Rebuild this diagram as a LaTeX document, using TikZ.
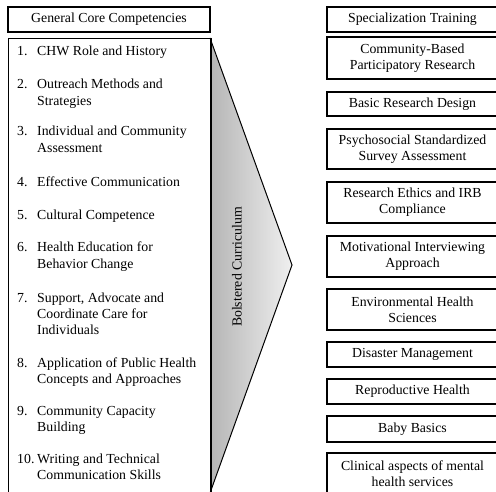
\documentclass[tikz,border=0pt]{standalone}
\usepackage{fontspec}
\setmainfont{Liberation Serif}
\begin{document}
\begin{tikzpicture}[x=1pt,y=-1pt,
  txt/.style={font=\fontsize{13.8}{16.3}\selectfont},
  headbox/.style={txt,draw=black,line width=1.8pt,minimum height=25pt,inner sep=0pt},
  rbox/.style={txt,draw=black,line width=1.2pt,minimum width=171pt,inner sep=0pt,align=center},
  item/.style={txt,anchor=base west,inner sep=0pt}]
\useasboundingbox (0,0) rectangle (496,492);
\clip (0,0) rectangle (496,492);

% shaded arrow behind the competency list
\shade[left color=gray!58,right color=gray!12]
  (210,38) -- (292,265) -- (210,493) -- cycle;
\draw[line width=1pt,line join=miter] (210,38) -- (292,265) -- (210,493);
\node[txt,rotate=90] (bolster) at (237,267) {Bolstered Curriculum};

% left column
\node[headbox,minimum width=202pt] (gcc) at (109,19.5) {General Core Competencies};
\node[draw=black,line width=1.2pt,anchor=north west,minimum width=202pt,minimum height=470pt,inner sep=0pt] (list) at (8,38) {};
\draw[line width=1.8pt] (list.north east) -- (list.south east);

\newcommand{\itm}[2]{\makebox[20pt][l]{#1}\parbox[t]{170pt}{\raggedright #2}}
\node[item] (c1) at (17,56) {\itm{1.}{CHW Role and History}};
\node[item] (c2) at (17,89) {\itm{2.}{Outreach Methods and\\Strategies}};
\node[item] (c3) at (17,136) {\itm{3.}{Individual and Community\\Assessment}};
\node[item] (c4) at (17,187) {\itm{4.}{Effective Communication}};
\node[item] (c5) at (17,220) {\itm{5.}{Cultural Competence}};
\node[item] (c6) at (17,252) {\itm{6.}{Health Education for\\Behavior Change}};
\node[item] (c7) at (17,302) {\itm{7.}{Support, Advocate and\\Coordinate Care for\\Individuals}};
\node[item] (c8) at (17,367) {\itm{8.}{Application of Public Health\\Concepts and Approaches}};
\node[item] (c9) at (17,415) {\itm{9.}{Community Capacity\\Building}};
\node[item] (c10) at (17,463) {\itm{10.}{Writing and Technical\\Communication Skills}};

% right column
\node[headbox,minimum width=171pt] (spec) at (412.5,19.5) {Specialization Training};
\node[rbox,minimum height=42pt] (s1) at (412.5,58) {Community-Based\\Participatory Research};
\node[rbox,minimum height=24pt] (s2) at (412.5,104) {Basic Research Design};
\node[rbox,minimum height=40pt] (s3) at (412.5,149) {Psychosocial Standardized\\Survey Assessment};
\node[rbox,minimum height=41pt] (s4) at (412.5,202.5) {Research Ethics and IRB\\Compliance};
\node[rbox,minimum height=41pt] (s5) at (412.5,256.5) {Motivational Interviewing\\Approach};
\node[rbox,minimum height=41pt] (s6) at (412.5,309.5) {Environmental Health\\Sciences};
\node[rbox,minimum height=25pt] (s7) at (412.5,354.5) {Disaster Management};
\node[rbox,minimum height=25pt] (s8) at (412.5,391.5) {Reproductive Health};
\node[rbox,minimum height=26pt] (s9) at (412.5,429) {Baby Basics};
\node[rbox,minimum height=42pt] (s10) at (412.5,474) {Clinical aspects of mental\\health services};
\end{tikzpicture}
\end{document}
